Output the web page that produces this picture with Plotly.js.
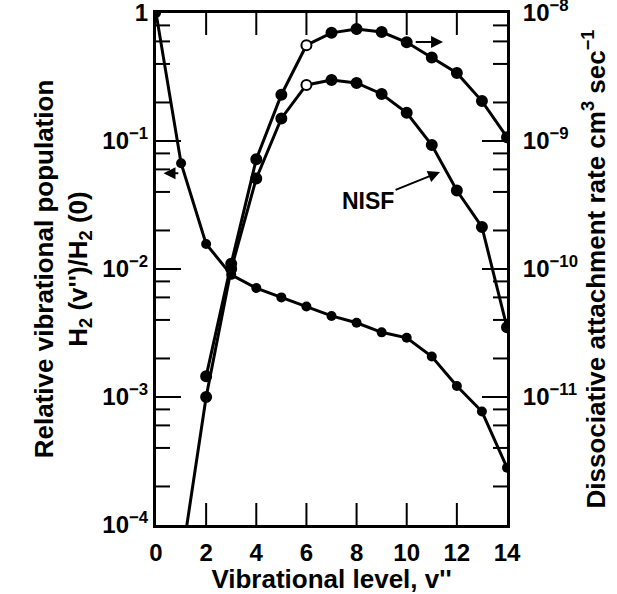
<!DOCTYPE html>
<html>
<head>
<meta charset="utf-8">
<script src="https://cdn.plot.ly/plotly-3.0.1.min.js"></script>
<style>html,body{margin:0;padding:0;background:#fff;}#chart{width:617px;height:594px;}</style>
</head>
<body>
<div id="chart"></div>
<script>
// ---- data ----
const levelsPop = [0, 1, 2, 3, 4, 5, 6, 7, 8, 9, 10, 11, 12, 13, 14];
const population = [1, 0.067, 0.0157, 0.009, 0.0071, 0.0060, 0.0051, 0.0043, 0.0038, 0.0032, 0.0029, 0.00207, 0.00122, 0.00077, 0.00028];

const levelsRateA = [2, 3, 4, 5, 6, 7, 8, 9, 10, 11, 12, 13, 14];
const rateA = [1.45e-11, 1.1e-10, 7.2e-10, 2.3e-9, 5.6e-9, 7.0e-9, 7.5e-9, 7.1e-9, 5.9e-9, 4.5e-9, 3.4e-9, 2.05e-9, 1.07e-9];

const levelsNISF = [1, 2, 3, 4, 5, 6, 7, 8, 9, 10, 11, 12, 13, 14];
const rateNISF = [5e-13, 1.0e-11, 1.0e-10, 5.1e-10, 1.5e-9, 2.74e-9, 3.0e-9, 2.84e-9, 2.33e-9, 1.66e-9, 9.3e-10, 4.1e-10, 2.13e-10, 3.5e-11];

const xTickVals = [0, 2, 4, 6, 8, 10, 12, 14];
const xTickText = ['0', '2', '4', '6', '8', '10', '12', '14'];
const leftTickVals = [1e-4, 1e-3, 1e-2, 1e-1, 1];
const leftTickText = ['10<sup>−4</sup>', '10<sup>−3</sup>', '10<sup>−2</sup>', '10<sup>−1</sup>', '1'];
const rightTickVals = [1e-11, 1e-10, 1e-9, 1e-8];
const rightTickText = ['10<sup>−11</sup>', '10<sup>−10</sup>', '10<sup>−9</sup>', '10<sup>−8</sup>'];
const minorMantissas = [2, 4, 6, 8];
const openLevel = 6;

// ---- layout geometry / styling ----
const FONT = 'Liberation Sans, Arial, Helvetica, sans-serif';
const W = 617, H = 594;
const M = {l: 156, r: 110, t: 13, b: 69};
const X_RANGE = [0, 14];
const LEFT_RANGE = [-4, 0];
const RIGHT_RANGE = [-12, -8];
const pxPerX = (W - M.l - M.r) / (X_RANGE[1] - X_RANGE[0]);
const pxPerDecade = (H - M.t - M.b) / (LEFT_RANGE[1] - LEFT_RANGE[0]);

const minorLeft = [];
for (let d = LEFT_RANGE[0]; d < LEFT_RANGE[1]; d++) minorMantissas.forEach(m => minorLeft.push(m * Math.pow(10, d)));

// inward tick marks, built from the tick values as one line trace on the left axis
const tickX = [], tickY = [];
const yBot = Math.pow(10, LEFT_RANGE[0]), yTop = Math.pow(10, LEFT_RANGE[1]);
xTickVals.slice(1, -1).forEach(v => {
  tickX.push(v, v, null); tickY.push(yBot, yBot * Math.pow(10, 22 / pxPerDecade), null);
  tickX.push(v, v, null); tickY.push(yTop, yTop / Math.pow(10, 22 / pxPerDecade), null);
});
function yTick(v, len) {
  tickX.push(X_RANGE[0], X_RANGE[0] + len / pxPerX, null); tickY.push(v, v, null);
  tickX.push(X_RANGE[1], X_RANGE[1] - len / pxPerX, null); tickY.push(v, v, null);
}
leftTickVals.slice(1, -1).forEach(v => yTick(v, 25));
minorLeft.forEach(v => yTick(v, 14));

function mk(xs) {
  return {size: 10, color: xs.map(v => v === openLevel ? 'white' : 'black'), line: {color: 'black', width: 2}};
}

const traces = [
  {x: tickX, y: tickY, type: 'scatter', mode: 'lines', yaxis: 'y', connectgaps: false,
   line: {color: 'black', width: 2}, showlegend: false, hoverinfo: 'skip'},
  {x: levelsPop, y: population, type: 'scatter', mode: 'lines+markers', yaxis: 'y',
   line: {color: 'black', width: 3}, marker: {size: 10, color: 'black'}, showlegend: false, hoverinfo: 'skip'},
  {x: levelsRateA, y: rateA, type: 'scatter', mode: 'lines+markers', yaxis: 'y2',
   line: {color: 'black', width: 3}, marker: mk(levelsRateA), showlegend: false, hoverinfo: 'skip'},
  {x: levelsNISF, y: rateNISF, type: 'scatter', mode: 'lines+markers', yaxis: 'y2',
   line: {color: 'black', width: 3}, marker: mk(levelsNISF), showlegend: false, hoverinfo: 'skip'}
];

const tickFont = {family: FONT, size: 24, color: 'black', weight: 'bold'};
const titleFont = {family: FONT, size: 26, color: 'black', weight: 'bold'};

const layout = {
  width: W, height: H,
  margin: {l: M.l, r: M.r, t: M.t, b: M.b, pad: 0},
  paper_bgcolor: 'white', plot_bgcolor: 'white',
  showlegend: false,
  xaxis: {
    range: X_RANGE, tickmode: 'array', tickvals: xTickVals, ticktext: xTickText, ticks: '',
    showline: true, linewidth: 3, linecolor: 'black', mirror: true, ticklabeloverflow: 'allow',
    showgrid: false, zeroline: false, tickfont: tickFont, ticklabelstandoff: 4,
    title: {text: "Vibrational level, v''", font: titleFont, standoff: 4}
  },
  yaxis: {
    type: 'log', range: LEFT_RANGE, tickmode: 'array', tickvals: leftTickVals, ticktext: leftTickText, ticks: '',
    showline: true, linewidth: 3, linecolor: 'black', mirror: true, ticklabeloverflow: 'allow',
    showgrid: false, zeroline: false, tickfont: tickFont,
    title: {text: 'Relative vibrational population<br>H<sub>2</sub> (v\'\')/H<sub>2</sub> (0)', font: titleFont, standoff: 8}
  },
  yaxis2: {
    type: 'log', range: RIGHT_RANGE, overlaying: 'y', side: 'right',
    tickmode: 'array', tickvals: rightTickVals, ticktext: rightTickText, ticks: '',
    showline: true, linewidth: 3, linecolor: 'black', ticklabeloverflow: 'allow',
    showgrid: false, zeroline: false, tickfont: tickFont, ticklabelstandoff: 8,
    title: {text: 'Dissociative attachment rate cm<sup>3</sup> sec<sup>−1</sup>', font: titleFont, standoff: 6}
  },
  annotations: [
    {x: 0.3, y: Math.log10(0.056), xref: 'x', yref: 'y', ax: 0.95, ay: Math.log10(0.056), axref: 'x', ayref: 'y',
     showarrow: true, arrowhead: 2, arrowsize: 1.2, arrowwidth: 2, arrowcolor: 'black', text: ''},
    {x: 11.45, y: -0.227, xref: 'x', yref: 'y', ax: 10.3, ay: -0.227, axref: 'x', ayref: 'y',
     showarrow: true, arrowhead: 2, arrowsize: 1.2, arrowwidth: 2, arrowcolor: 'black', text: ''},
    {x: 11.33, y: -1.242, xref: 'x', yref: 'y', ax: 8.46, ay: -1.469, axref: 'x', ayref: 'y',
     showarrow: true, arrowhead: 2, arrowsize: 1.2, arrowwidth: 2, arrowcolor: 'black',
     text: 'NISF', font: {family: FONT, size: 23, color: 'black', weight: 'bold'}}
  ]
};

Plotly.newPlot('chart', traces, layout, {staticPlot: true, displayModeBar: false});
</script>
</body>
</html>
